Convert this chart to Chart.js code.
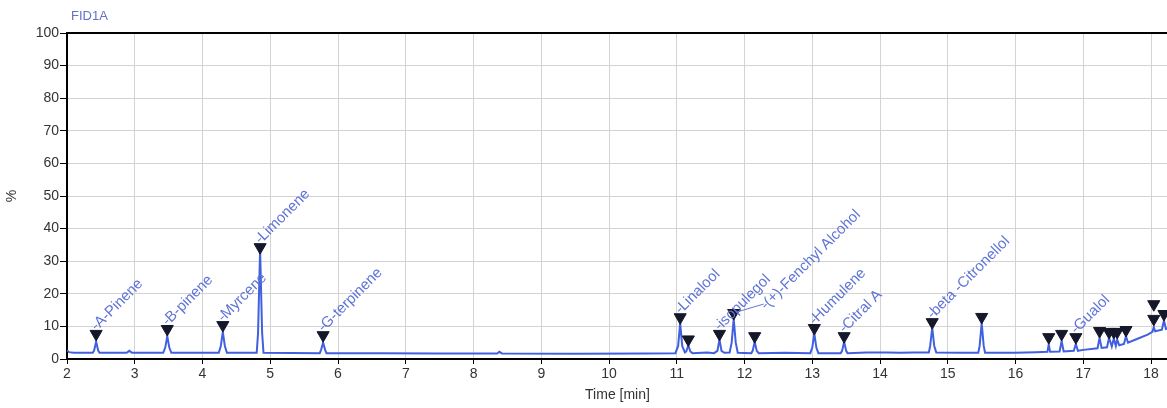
<!DOCTYPE html>
<html>
<head>
<meta charset="utf-8">
<script src="https://cdn.jsdelivr.net/npm/chart.js@4.4.1/dist/chart.umd.min.js"></script>
<style>
  html, body { margin: 0; padding: 0; background: #ffffff; overflow: hidden; }
  #wrap { width: 1176px; height: 408px; position: relative; }
</style>
</head>
<body>
<div id="wrap"><canvas id="c"></canvas></div>
<script>
// ---- data ----
const signalName = "FID1A";
const xTitle = "Time [min]";
const yTitle = "%";
const xTicks = [2,3,4,5,6,7,8,9,10,11,12,13,14,15,16,17,18];
const yTicks = [0,10,20,30,40,50,60,70,80,90,100];

// chromatogram trace: retention time [min]
const traceTime = [
  2.00,2.03,2.10,2.38,2.40,2.43,2.46,2.48,
  2.88,2.92,2.96,
  3.42,3.45,3.48,3.51,3.54,
  4.24,4.27,4.30,4.33,4.36,
  4.80,4.82,4.85,4.88,4.90,
  5.73,5.75,5.78,5.81,5.83,
  6.60,7.50,8.35,8.38,8.42,9.50,10.50,10.98,
  11.02,11.05,11.08,11.12,11.14,11.17,11.20,11.23,
  11.45,11.55,11.60,11.63,11.66,11.70,11.78,11.81,11.84,11.87,11.90,
  12.10,12.12,12.15,12.18,12.21,
  12.60,12.97,13.00,13.03,13.06,13.09,
  13.42,13.44,13.47,13.50,13.52,
  13.80,14.10,14.30,14.50,14.72,14.74,14.77,14.80,14.83,
  15.20,15.45,15.47,15.50,15.53,15.55,
  16.00,16.30,16.47,16.49,16.51,16.65,16.68,16.71,16.86,16.89,16.92,
  17.00,17.21,17.24,17.27,17.35,17.38,17.42,17.45,17.48,17.50,17.53,17.60,17.63,17.66,
  17.80,17.95,18.02,18.04,18.06,18.16,18.19,18.22,18.25
];
// signal [%]
const traceSignal = [
  2.7,2.1,1.9,1.9,2.6,5.3,2.6,1.9,
  1.9,2.5,1.9,
  1.9,3.5,7.0,3.5,1.9,
  1.9,4.0,8.3,4.0,1.9,
  1.9,8.0,33.5,8.0,1.9,
  1.8,2.8,5.0,2.8,1.8,
  1.8,1.7,1.7,2.2,1.7,1.6,1.7,1.8,
  4.0,11.0,4.0,2.0,2.3,4.2,2.3,1.8,
  2.0,1.8,2.5,6.0,2.5,1.9,2.0,5.0,12.3,5.0,1.9,
  1.8,2.5,5.3,2.5,1.8,
  1.9,1.8,3.5,7.8,3.5,1.8,
  1.8,2.5,5.3,2.5,1.8,
  2.0,2.0,1.9,2.0,2.0,4.0,9.6,4.0,2.0,
  1.9,1.9,4.0,11.0,4.0,1.9,
  1.9,2.1,2.2,4.5,2.2,2.3,5.5,2.3,2.5,4.6,2.5,
  2.8,3.3,6.5,3.4,3.6,6.5,3.8,6.3,4.0,6.0,4.2,4.6,7.0,5.0,
  6.2,7.5,8.3,9.8,8.5,9.0,11.8,9.2,9.4
];

// integrated peak markers (apex flags)
const markerTime   = [2.43,3.48,4.30,4.85,5.78,11.05,11.17,11.63,11.84,12.15,13.03,13.47,14.77,15.50,16.49,16.68,16.89,17.24,17.38,17.45,17.50,17.63,18.04,18.04,18.19];
const markerSignal = [7.7,9.2,10.4,34.3,7.3,12.8,6.0,7.7,14.1,7.0,9.5,7.0,11.3,12.9,6.7,7.7,6.7,8.6,8.3,8.3,8.3,8.9,12.3,16.8,13.8];

// peak names and the marker they belong to
const peakNames = ["A-Pinene","B-pinene","Myrcene","Limonene","G-terpinene","Linalool","isopulegol","(+)-Fenchyl Alcohol","Humulene","Citral A","beta -Citronellol","Gualol"];
const peakMarkerIndex = [0,1,2,3,4,5,7,8,10,11,12,16];

// ---- styles ----
const FONT = "'Liberation Sans', Arial, sans-serif";
const BLUE_TRACE = "rgb(64,96,224)";
const BLUE_TEXT = "rgb(96,116,216)";
const GRID = "#d3d3d3";
const TEXT = "#333333";

const tracePoints = traceTime.map((t, i) => ({ x: t, y: traceSignal[i] }));
const markerPoints = markerTime.map((t, i) => ({ x: t, y: markerSignal[i] }));

const decorPlugin = {
  id: 'decor',
  afterDatasetsDraw(chart) {
    const { ctx, chartArea, scales } = chart;
    const xs = scales.x, ys = scales.y;
    ctx.save();
    // top frame line
    ctx.strokeStyle = "#000";
    ctx.lineWidth = 2;
    ctx.beginPath();
    ctx.moveTo(chartArea.left, chartArea.top);
    ctx.lineTo(chartArea.right, chartArea.top);
    ctx.stroke();

    // signal name
    ctx.fillStyle = "rgb(100,112,204)";
    ctx.font = "13px " + FONT;
    ctx.textAlign = "left";
    ctx.textBaseline = "middle";
    ctx.fillText(signalName, chartArea.left + 4, 16);

    // peak labels
    ctx.font = "15px " + FONT;
    ctx.fillStyle = BLUE_TEXT;
    ctx.strokeStyle = BLUE_TEXT;
    ctx.lineWidth = 1;
    peakNames.forEach((name, i) => {
      const m = peakMarkerIndex[i];
      const mx = xs.getPixelForValue(markerTime[m]);
      const my = ys.getPixelForValue(markerSignal[m]);
      let ox = mx - 2, oy = my - 6;
      if (name.startsWith("(+)")) {
        // leader line for the crowded label
        ox = mx + 30; oy = my - 6;
        ctx.beginPath();
        ctx.moveTo(mx + 3, my - 1);
        ctx.lineTo(ox, oy - 3);
        ctx.stroke();
      }
      ctx.save();
      ctx.translate(ox, oy);
      ctx.rotate(-Math.PI / 4);
      ctx.beginPath();
      ctx.moveTo(0, 0);
      ctx.lineTo(4, 0);
      ctx.stroke();
      ctx.textAlign = "left";
      ctx.textBaseline = "middle";
      ctx.fillText(name, 4, 0);
      ctx.restore();
    });
    ctx.restore();
  }
};

new Chart(document.getElementById('c'), {
  type: 'scatter',
  data: {
    datasets: [
      {
        label: 'trace',
        data: tracePoints,
        showLine: true,
        borderColor: BLUE_TRACE,
        borderWidth: 2,
        pointRadius: 0,
        tension: 0,
        order: 2
      },
      {
        label: 'markers',
        data: markerPoints,
        showLine: false,
        pointStyle: 'triangle',
        pointRotation: 180,
        pointRadius: 7,
        pointBackgroundColor: '#15172a',
        pointBorderColor: '#15172a',
        pointBorderWidth: 1,
        order: 1
      }
    ]
  },
  options: {
    responsive: true,
    maintainAspectRatio: false,
    animation: false,
    layout: { padding: { top: 33, left: 0, right: 0, bottom: 0 } },
    plugins: {
      legend: { display: false },
      tooltip: { enabled: false },
      title: { display: false }
    },
    scales: {
      x: {
        type: 'linear',
        min: 2,
        max: 18.25,
        afterBuildTicks: (s) => { s.ticks = xTicks.map(v => ({ value: v })); },
        afterFit: (s) => { s.height = 49; },
        ticks: {
          color: TEXT,
          font: { family: FONT, size: 14 },
          padding: 2,
          maxRotation: 0,
          autoSkip: false
        },
        grid: { color: GRID, tickColor: '#000', tickLength: 5, lineWidth: 1 },
        border: { color: '#000', width: 2 },
        title: {
          display: true,
          text: xTitle,
          color: TEXT,
          font: { family: FONT, size: 14 },
          padding: { top: 0, bottom: 4 }
        }
      },
      y: {
        type: 'linear',
        min: 0,
        max: 100,
        afterBuildTicks: (s) => { s.ticks = yTicks.map(v => ({ value: v })); },
        afterFit: (s) => { s.width = 67; },
        ticks: {
          color: TEXT,
          font: { family: FONT, size: 14 },
          padding: 1,
          autoSkip: false
        },
        grid: { color: GRID, tickColor: '#000', tickLength: 7, lineWidth: 1 },
        border: { color: '#000', width: 2 },
        title: {
          display: true,
          text: yTitle,
          color: TEXT,
          font: { family: FONT, size: 14 },
          padding: { top: 4, bottom: 4 }
        }
      }
    }
  },
  plugins: [decorPlugin]
});
</script>
</body>
</html>
